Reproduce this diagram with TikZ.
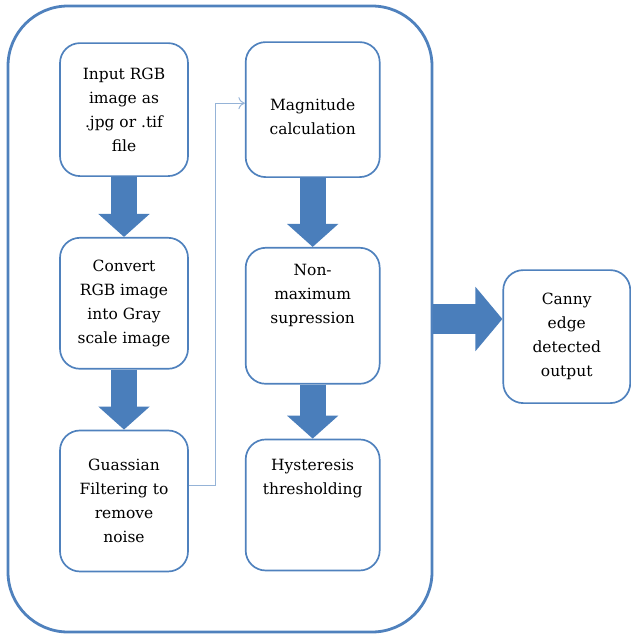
\documentclass[tikz,border=0pt]{standalone}
\usepackage{tikz}
\usepackage{fontspec}
\setmainfont{DejaVu Serif}
\usetikzlibrary{positioning, arrows.meta}
\definecolor{Steel}{HTML}{4F81BD}
\definecolor{Cobalt}{HTML}{4A7EBB}
\definecolor{Sky}{HTML}{95B3D7}

\begin{document}
\begin{tikzpicture}[
    stage/.style={draw=Steel, line width=1.2pt, rounded corners=0.5cm, minimum width=3.2cm, align=center, font=\fontsize{11}{17}\selectfont},
    caption/.style={align=center, inner sep=0pt, font=\fontsize{11}{17}\selectfont},
    blockarr/.style={line width=0.65cm, draw=Cobalt, -{Triangle[length=0.575cm, width=1.25cm]}},
    bigarr/.style={line width=0.75cm, draw=Cobalt, -{Triangle[length=0.675cm, width=1.575cm]}},
    thinarr/.style={draw=Sky, line width=0.7pt, -{To[length=1.6mm, width=3mm]}}
]
\useasboundingbox (0,0) rectangle (15.75,-15.85);

\node[draw=Steel, line width=2pt, rounded corners=1.5cm, minimum width=10.6cm, minimum height=15.65cm] (frame) at (5.5,-7.975) {};

% left column
\node[stage, minimum height=3.325cm] (inrgb) at (3.1,-2.74) {Input RGB\\image as\\.jpg or .tif\\file};
\node[stage, minimum height=3.275cm, below=1.5cm of inrgb] (conv) {Convert\\RGB image\\into Gray\\scale image};
\node[stage, minimum height=3.525cm, below=1.5cm of conv] (gauss) {Guassian\\Filtering to\\remove\\noise};

% right column
\node[stage, minimum width=3.35cm, minimum height=3.375cm, right=1.4cm of inrgb] (mag) {};
\node[caption, below=1.43cm of mag.north] (magtxt) {Magnitude\\calculation};
\node[stage, minimum width=3.35cm, minimum height=3.4cm, below=1.725cm of mag] (nms) {};
\node[caption, below=0.43cm of nms.north] (nmstxt) {Non-\\maximum\\supression};
\node[stage, minimum width=3.35cm, minimum height=3.275cm, below=1.35cm of nms] (hyst) {};
\node[caption, below=0.5cm of hyst.north] (hysttxt) {Hysteresis\\thresholding};

% output
\node[stage, minimum width=3.175cm, minimum height=3.325cm, right=1.725cm of frame, yshift=-0.44cm] (canny) {Canny\\edge\\detected\\output};

\draw[blockarr] (inrgb) -- (conv);
\draw[blockarr] (conv) -- (gauss);
\draw[blockarr] (mag) -- (nms);
\draw[blockarr] (nms) -- (hyst);
\draw[thinarr] ([yshift=0.39cm]gauss.east) -- ++(0.675,0) |- ([yshift=0.16cm]mag.west);
\draw[bigarr] (frame.east) -- (frame.east -| canny.west);

\end{tikzpicture}
\end{document}
